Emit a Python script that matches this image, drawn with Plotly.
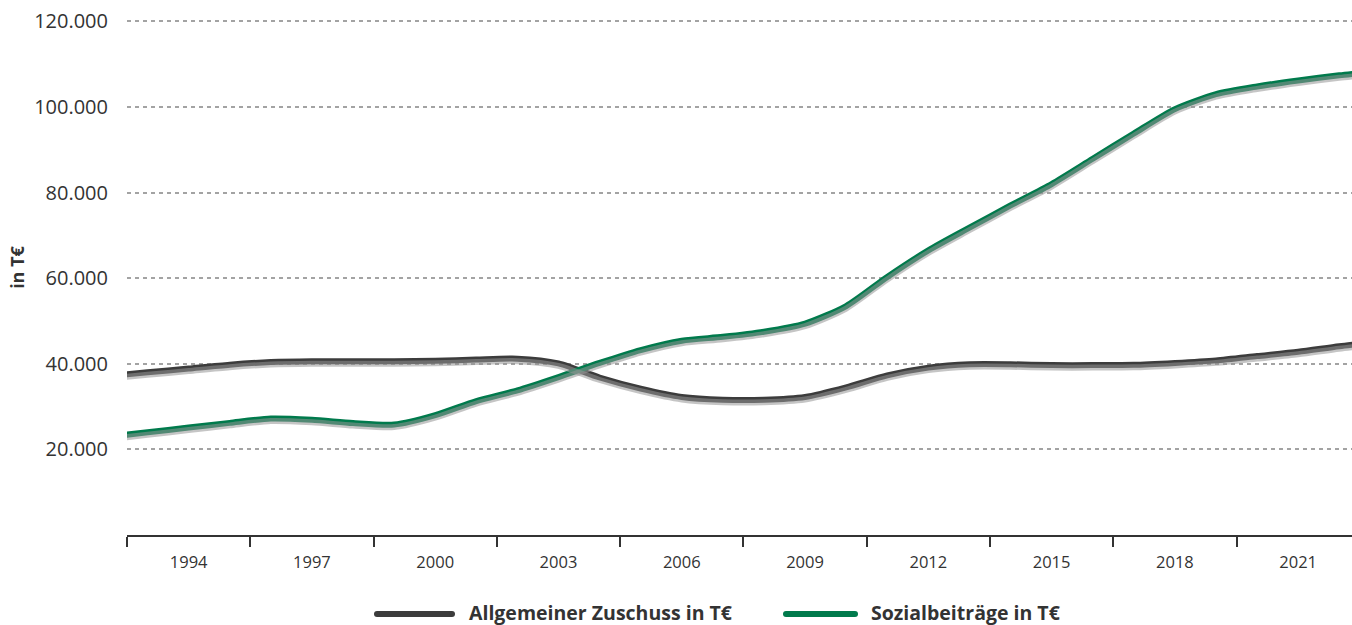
import plotly.graph_objects as go

# ---------------- data ----------------
years = list(range(1992, 2024))
zuschuss = [37100, 38000, 38900, 39800, 40400, 40600, 40600, 40600, 40700, 41000,
            41200, 40100, 36800, 34200, 32250, 31600, 31600, 32250, 34500, 37300,
            39100, 39900, 39900, 39700, 39700, 39750, 40200, 40800, 41800, 42800,
            44100, 45200]
sozial = [22900, 24000, 25100, 26200, 27200, 26900, 26150, 25800, 28000, 31300,
          33800, 36900, 40200, 43200, 45400, 46300, 47500, 49400, 53500, 60300,
          66500, 71800, 77000, 82000, 87900, 93800, 99500, 103000, 104800, 106200,
          107400, 108400]
series_names = ["Allgemeiner Zuschuss in T€", "Sozialbeiträge in T€"]
series_colors = ["#3c3c3c", "#007a4c"]
label_years = [1994, 1997, 2000, 2003, 2006, 2009, 2012, 2015, 2018, 2021]
band_edges = [1992.5 + 3 * k for k in range(11)]
y_ticks = [20000, 40000, 60000, 80000, 100000, 120000]

# ---------------- layout constants ----------------
W, H = 1352, 625
L, R, T, B = 127, 0, 0, 90
X_RANGE = [1992.5, 2022.31]
Y_RANGE = [0, 125000]
plot_h = H - T - B
shadow_px = 2.5
shift = (Y_RANGE[1] - Y_RANGE[0]) / plot_h * shadow_px

FONT = "Open Sans"
TXT = "#333333"
SMOOTH = 0.7

fig = go.Figure()

# shadows (drawn on an offset overlay axis)
for vals in (zuschuss, sozial):
    fig.add_trace(go.Scatter(
        x=years, y=vals, mode="lines", yaxis="y2",
        line=dict(color="rgba(150,150,150,0.55)", width=6, shape="spline", smoothing=SMOOTH),
        hoverinfo="skip", showlegend=False))

for vals, name, col in zip((zuschuss, sozial), series_names, series_colors):
    fig.add_trace(go.Scatter(
        x=years, y=vals, mode="lines", name=name,
        line=dict(color=col, width=6, shape="spline", smoothing=SMOOTH),
        showlegend=False))

fig.update_layout(
    width=W, height=H,
    margin=dict(l=L, r=R, t=T, b=B),
    paper_bgcolor="white", plot_bgcolor="white",
    separators=",.",
    font=dict(family=FONT, color=TXT),
    xaxis=dict(
        range=X_RANGE, showgrid=False, zeroline=False,
        showline=True, linecolor=TXT, linewidth=2,
        tickmode="array", tickvals=label_years, ticktext=[str(y) for y in label_years],
        ticks="", tickfont=dict(size=16.5, color=TXT, family=FONT),
        ticklabelstandoff=11,
        minor=dict(tickmode="array", tickvals=band_edges, ticks="outside",
                   ticklen=10, tickwidth=2, tickcolor=TXT, showgrid=False),
    ),
    yaxis=dict(
        range=Y_RANGE, zeroline=False, showline=False,
        tickmode="array", tickvals=y_ticks, tickformat=",d",
        ticks="", tickfont=dict(size=20, color=TXT, family=FONT),
        ticklabelstandoff=18,
        showgrid=True, gridcolor="#a3a3a3", gridwidth=2, griddash="4px,4px",
        title=dict(text="in T€", font=dict(size=18, color=TXT, family=FONT, weight="bold"),
                   standoff=4),
        automargin=False,
    ),
    yaxis2=dict(range=[Y_RANGE[0] + shift, Y_RANGE[1] + shift], overlaying="y",
                visible=False, showgrid=False, zeroline=False),
    showlegend=False,
)

# manual legend (long rounded line symbols like the reference)
def px2paper_x(px):
    return (px - L) / (W - L - R)

def px2paper_y(py):
    return (H - B - py) / plot_h

legend_items = [
    (374, 455, 468, series_names[0], series_colors[0]),
    (783, 858, 870, series_names[1], series_colors[1]),
]
ly = 614
ty = 612
cap = 3
for x0, x1, tx, name, col in legend_items:
    fig.add_shape(type="line", xref="paper", yref="paper",
                  x0=px2paper_x(x0 + cap), x1=px2paper_x(x1 - cap),
                  y0=px2paper_y(ly), y1=px2paper_y(ly),
                  line=dict(color=col, width=6), layer="above")
    for cx in (x0 + cap, x1 - cap):
        fig.add_shape(type="circle", xref="paper", yref="paper",
                      x0=px2paper_x(cx - cap), x1=px2paper_x(cx + cap),
                      y0=px2paper_y(ly + cap), y1=px2paper_y(ly - cap),
                      fillcolor=col, line=dict(width=0), layer="above")
    fig.add_annotation(xref="paper", yref="paper",
                       x=px2paper_x(tx), y=px2paper_y(ty),
                       xanchor="left", yanchor="middle", showarrow=False, borderpad=0,
                       text=name, font=dict(size=19.5, color=TXT, family=FONT, weight="bold"))

fig.write_html(
    "out.html",
    config={"displayModeBar": False},
    post_script="document.body.style.margin='0';document.body.style.overflow='hidden';",
)
